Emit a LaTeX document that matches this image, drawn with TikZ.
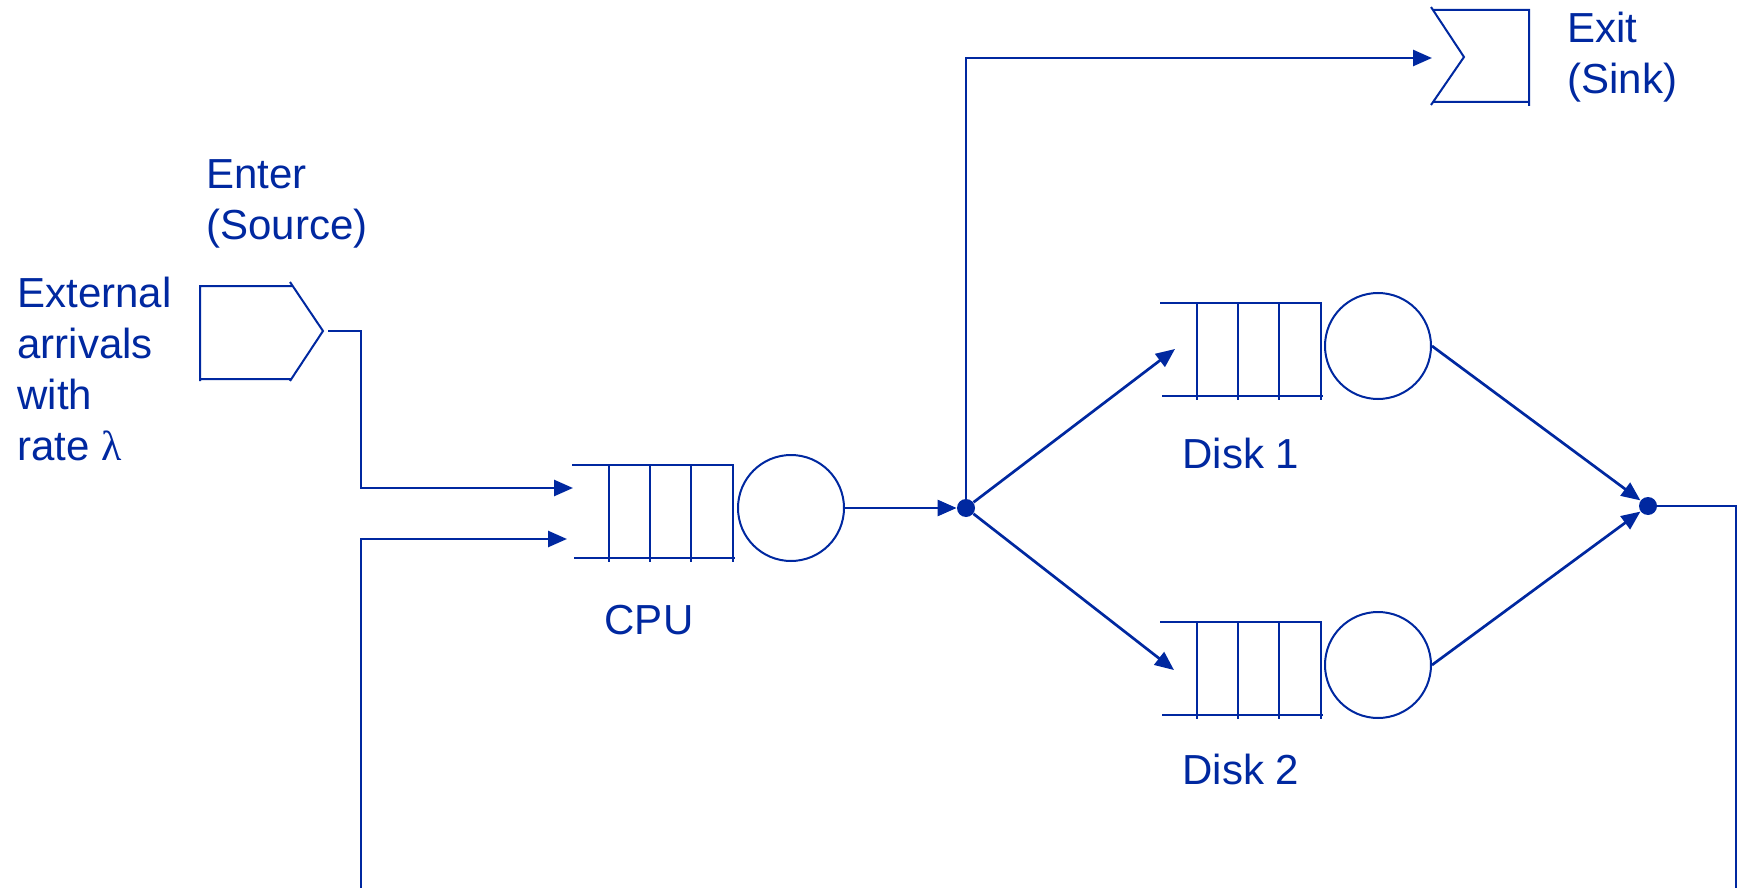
\documentclass[tikz,border=0pt]{standalone}
\usepackage{fontspec}
\setmainfont{Liberation Sans}
\newfontfamily\greekfont{Liberation Serif}
\usetikzlibrary{arrows.meta}
\definecolor{qblue}{RGB}{0,40,160}

\begin{document}
\begin{tikzpicture}[x=0.5pt, y=-0.5pt,
  every node/.style={text=qblue, font=\fontsize{21}{25.5}\selectfont},
  flow/.style={qblue, line width=1.35pt, -{Triangle[length=9.5pt,width=8pt]}},
  plain/.style={qblue, line width=1pt},
  server/.style={draw=qblue, line width=1pt, circle, minimum size=53pt, inner sep=0pt},
  joint/.style={fill=qblue, circle, minimum size=9pt, inner sep=0pt},
  txt/.style={align=left, inner sep=0pt, anchor=base west}]
\useasboundingbox (0,0) rectangle (1737,888);

% source and sink
\draw[plain] (292,286) -- (200,286) -- (200,381) (200,379) -- (292,379) (290,282) -- (323,331) -- (290,381);
\draw[plain] (1433,10) -- (1529,10) -- (1529,106) (1433,102) -- (1529,102) (1431,7) -- (1464,57) -- (1431,105);

% queues
\draw[plain] (572,465) -- (733,465) -- (733,562) (574,558) -- (735,558) (609,465) -- (609,562) (650,465) -- (650,562) (691,465) -- (691,562);
\draw[plain] (1160,303) -- (1321,303) -- (1321,400) (1162,396) -- (1323,396) (1197,303) -- (1197,400) (1238,303) -- (1238,400) (1279,303) -- (1279,400);
\draw[plain] (1160,622) -- (1321,622) -- (1321,719) (1162,715) -- (1323,715) (1197,622) -- (1197,719) (1238,622) -- (1238,719) (1279,622) -- (1279,719);

\node[server] (cpu) at (791,508) {};
\node[server] (disk1) at (1378,346) {};
\node[server] (disk2) at (1378,665) {};

\node[joint] (fork) at (966,508) {};
\node[joint] (join) at (1648,506) {};

\coordinate (enter) at (328,331);
\coordinate (exit) at (1432,58);
\coordinate (cpuin) at (573,488);
\coordinate (cpuback) at (567,539);
\coordinate (feedin) at (361,888);
\coordinate (feedout) at (1736,888);
\coordinate (disk1in) at (1175,349);
\coordinate (disk2in) at (1174,670);

\draw[flow] (enter) -- ++(33,0) |- (cpuin);
\draw[flow] (feedin) |- (cpuback);
\draw[flow] (cpu) -- (fork);
\draw[flow] (fork) |- (exit);
\draw[flow] (fork) -- (disk1in);
\draw[flow] (fork) -- (disk2in);
\draw[flow] (disk1.east) -- (join);
\draw[flow] (disk2.east) -- (join);
\draw[flow, -] (join) -| (feedout);

\node[txt] (entertext) at (206,240) {Enter\\(Source)};
\node[txt] (arrivaltext) at (17,460) {External\\arrivals\\with\\rate {\greekfont λ}};
\node[txt] (exittext) at (1567,94) {Exit\\(Sink)};

\node[anchor=base] (cputext) at (649,634) {CPU};
\node[anchor=base] (disk1text) at (1241,468) {Disk 1};
\node[anchor=base] (disk2text) at (1241,784) {Disk 2};
\end{tikzpicture}
\end{document}
